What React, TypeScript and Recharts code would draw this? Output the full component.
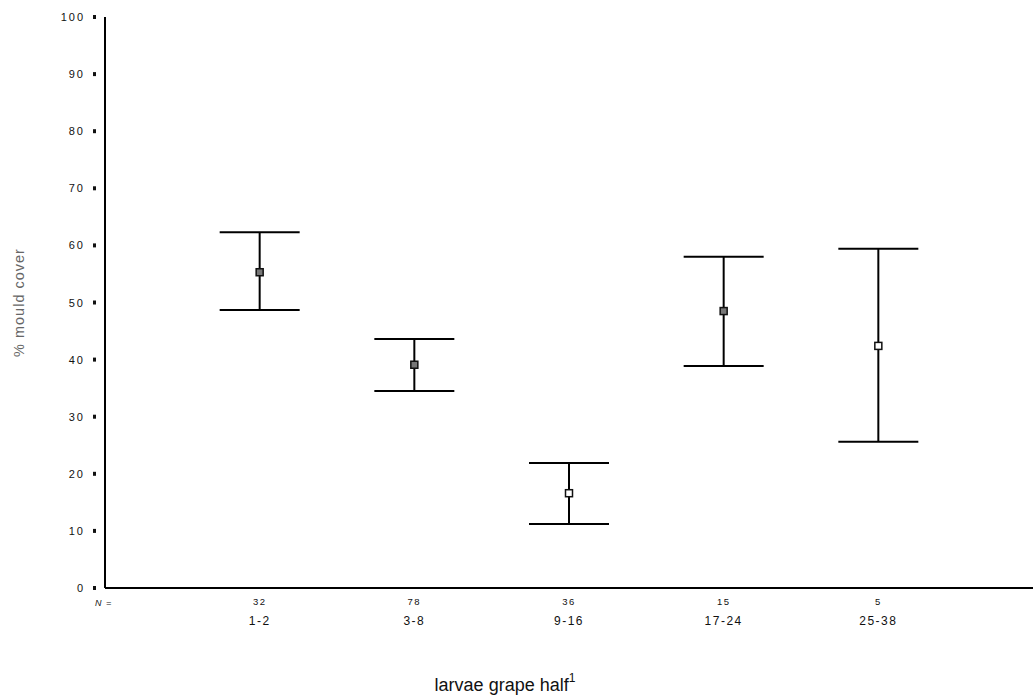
import { ScatterChart, Scatter, XAxis, YAxis, ErrorBar, Label } from 'recharts';

const categories = ['1-2', '3-8', '9-16', '17-24', '25-38'];
const nValues = [32, 78, 36, 15, 5];
const means = [55.3, 39.1, 16.6, 48.5, 42.4];
const upper = [62.3, 43.6, 21.9, 58.0, 59.4];
const lower = [48.7, 34.5, 11.2, 38.9, 25.6];
const hollow = [false, false, true, false, true];
const yTicks = [0, 10, 20, 30, 40, 50, 60, 70, 80, 90, 100];

const FONT = '"Liberation Sans", Arial, sans-serif';

const chartData = categories.map((cat, i) => ({
  x: i + 1,
  y: means[i],
  err: [means[i] - lower[i], upper[i] - means[i]],
  hollow: hollow[i],
  label: cat,
}));

const YTick = (props: any) => {
  const { x, y, payload } = props;
  return (
    <g>
      <rect x={x - 4} y={y - 2} width={3} height={4} fill="#111" />
      <text x={x - 12} y={y + 4} textAnchor="end" fontSize={11} fill="#111" fontFamily={FONT} letterSpacing={2}>
        {payload.value}
      </text>
    </g>
  );
};

const XTick = (props: any) => {
  const { x, y, payload } = props;
  const v = payload.value;
  if (v === 0) {
    return (
      <text x={x - 10} y={y + 10} fontSize={9} fontStyle="italic" fill="#111" fontFamily={FONT} letterSpacing={1}>
        N =
      </text>
    );
  }
  const i = v - 1;
  if (i < 0 || i >= categories.length) return null;
  return (
    <g>
      <text x={x} y={y + 9} textAnchor="middle" fontSize={9.5} fill="#111" fontFamily={FONT} letterSpacing={1.5}>
        {nValues[i]}
      </text>
      <text x={x} y={y + 29} textAnchor="middle" fontSize={12} fill="#111" fontFamily={FONT} letterSpacing={1.5}>
        {categories[i]}
      </text>
    </g>
  );
};

const Marker = (props: any) => {
  const { cx, cy, payload } = props;
  return (
    <rect
      x={cx - 3.5}
      y={cy - 3.5}
      width={7}
      height={7}
      fill={payload.hollow ? '#fff' : '#777'}
      stroke="#111"
      strokeWidth={1.5}
    />
  );
};

const XTitle = (props: any) => {
  const { viewBox } = props;
  const cx = 505;
  const y = viewBox.y + 103;
  return (
    <text x={cx} y={y} textAnchor="middle" fontSize={18} fill="#111" fontFamily={FONT}>
      larvae grape half
      <tspan fontSize={12} dy={-9}>1</tspan>
    </text>
  );
};

export default function App() {
  return (
    <div style={{ position: 'absolute', left: 0, top: 0, width: 1033, height: 699, background: '#fff' }}>
      <ScatterChart width={1033} height={699} margin={{ top: 17, right: 0, bottom: 0, left: 0 }}>
        <XAxis
          type="number"
          dataKey="x"
          domain={[0, 6]}
          ticks={[0, 1, 2, 3, 4, 5]}
          height={111}
          axisLine={{ stroke: '#000', strokeWidth: 2 }}
          tickLine={false}
          tick={<XTick />}
          interval={0}
        >
          <Label content={<XTitle />} />
        </XAxis>
        <YAxis
          type="number"
          dataKey="y"
          domain={[0, 100]}
          ticks={yTicks}
          width={105}
          axisLine={{ stroke: '#000', strokeWidth: 2 }}
          tickLine={false}
          tick={<YTick />}
          interval={0}
        >
          <Label
            value="% mould cover"
            angle={-90}
            position="insideLeft"
            offset={19}
            style={{ fontSize: 14.5, fill: '#666', fontFamily: FONT, textAnchor: 'middle', letterSpacing: 1 }}
          />
        </YAxis>
        <Scatter data={chartData} shape={<Marker />} isAnimationActive={false}>
          <ErrorBar dataKey="err" direction="y" width={40} stroke="#000" strokeWidth={2} />
        </Scatter>
      </ScatterChart>
    </div>
  );
}
